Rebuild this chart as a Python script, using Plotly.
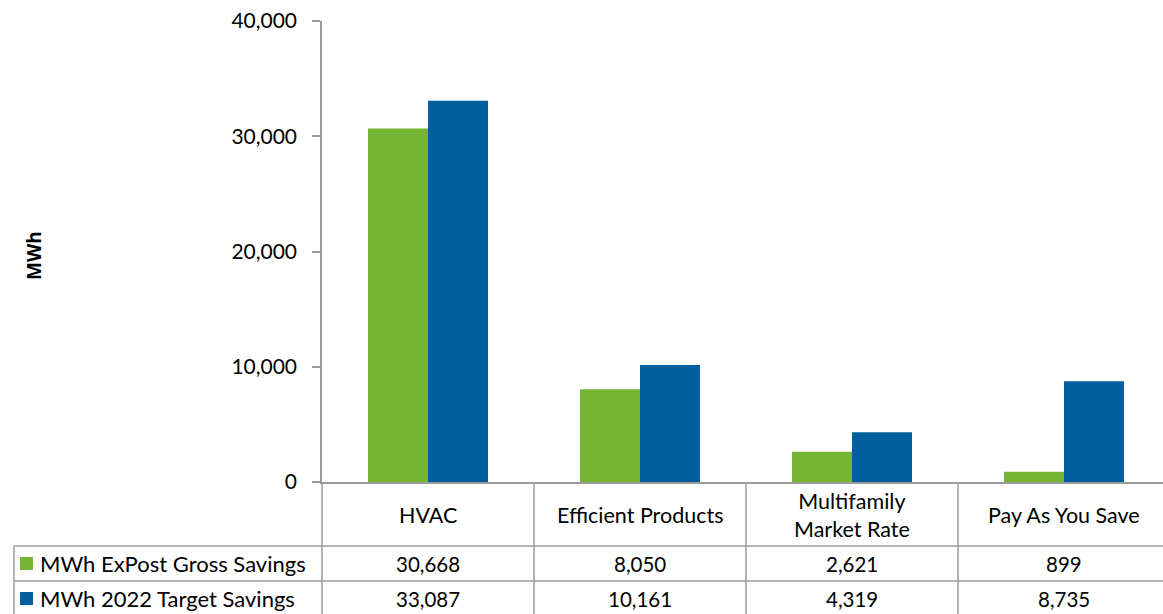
import plotly.graph_objects as go

# Program categories and savings (MWh)
categories = ["HVAC", "Efficient Products", "Multifamily<br>Market Rate", "Pay As You Save"]
expost_gross = [30668, 8050, 2621, 899]
target_2022 = [33087, 10161, 4319, 8735]
series_names = ["MWh ExPost Gross Savings", "MWh 2022 Target Savings"]
series_colors = ["#76b534", "#005f9d"]
y_ticks = [0, 10000, 20000, 30000, 40000]

FONT = "Lato, 'Open Sans', sans-serif"
GRID = "#9b9b9b"

W, H = 1163, 614
L, T = 322, 21
PLOT_W = W - L
PLOT_H = 461
COL_W = 212  # width of one category column in px

def py(px):
    """Pixel row -> paper y."""
    return 1 - (px - T) / PLOT_H

def px_x(px):
    """Pixel column -> paper x."""
    return (px - L) / PLOT_W

fig = go.Figure()
for name, vals, col in zip(series_names, [expost_gross, target_2022], series_colors):
    fig.add_trace(go.Bar(
        x=list(range(len(categories))), y=vals, name=name,
        marker=dict(color=col, line=dict(width=0)),
        showlegend=False,
    ))

x_span = PLOT_W / COL_W
fig.update_layout(
    width=W, height=H,
    margin=dict(l=L, r=0, t=T, b=H - T - PLOT_H, pad=0),
    paper_bgcolor="white", plot_bgcolor="white",
    barmode="group", bargap=0.434, bargroupgap=0,
    font=dict(family=FONT, size=20, color="black"),
    xaxis=dict(range=[-0.5, -0.5 + x_span], showticklabels=False, ticks="",
               showgrid=False, zeroline=False, showline=True,
               linecolor=GRID, linewidth=1.5),
    yaxis=dict(range=[0, 40000], tickvals=y_ticks, tickformat=",",
               ticks="outside", ticklen=8, tickcolor=GRID, tickwidth=1.5,
               ticklabelstandoff=11,
               showgrid=False, zeroline=False, showline=True,
               linecolor=GRID, linewidth=1.5,
               tickfont=dict(size=21, family=FONT)),
)

# Y-axis title
fig.add_annotation(text="<b>MWh</b>", xref="paper", yref="paper",
                   x=px_x(19), y=py(256), textangle=-90, showarrow=False,
                   font=dict(size=19, family="'Open Sans', 'Noto Sans', sans-serif",
                             weight="bold"))

# Data table grid
row_top, row1, row2, row_bot = 482, 546, 581, 616
line = dict(color=GRID, width=1.5)
# axis line continued down through table
fig.add_shape(type="line", xref="paper", yref="paper",
              x0=0, x1=0, y0=py(row_top), y1=py(row_bot), line=line)
# category separators
for i in range(1, len(categories) + 1):
    fig.add_shape(type="line", xref="x", yref="paper",
                  x0=i - 0.5, x1=i - 0.5, y0=py(row_top), y1=py(row_bot), line=line)
# row separators spanning legend column and values
for r in (row1, row2):
    fig.add_shape(type="line", xref="paper", yref="paper",
                  x0=px_x(14), x1=1, y0=py(r), y1=py(r), line=line)
# legend column left edge
fig.add_shape(type="line", xref="paper", yref="paper",
              x0=px_x(14), x1=px_x(14), y0=py(row1), y1=py(row_bot), line=line)

# Category header row
for i, cat in enumerate(categories):
    fig.add_annotation(text=cat, xref="x", yref="paper", x=i, y=py(515),
                       showarrow=False, font=dict(size=21.5, family=FONT),
                       align="center", yanchor="middle")

# Value rows with legend keys
for vals, name, col, yc in zip([expost_gross, target_2022], series_names,
                               series_colors, [563.5, 598.5]):
    fig.add_shape(type="rect", xref="paper", yref="paper",
                  x0=px_x(20), x1=px_x(33), y0=py(yc - 6.5), y1=py(yc + 6.5),
                  fillcolor=col, line=dict(width=0))
    fig.add_annotation(text=name, xref="paper", yref="paper",
                       x=px_x(38), y=py(yc), xanchor="left", yanchor="middle",
                       showarrow=False, font=dict(size=22, family=FONT))
    for i, v in enumerate(vals):
        fig.add_annotation(text=f"{v:,}", xref="x", yref="paper", x=i, y=py(yc),
                           showarrow=False, yanchor="middle",
                           font=dict(size=20.5, family=FONT))

fig.write_html("out.html")
